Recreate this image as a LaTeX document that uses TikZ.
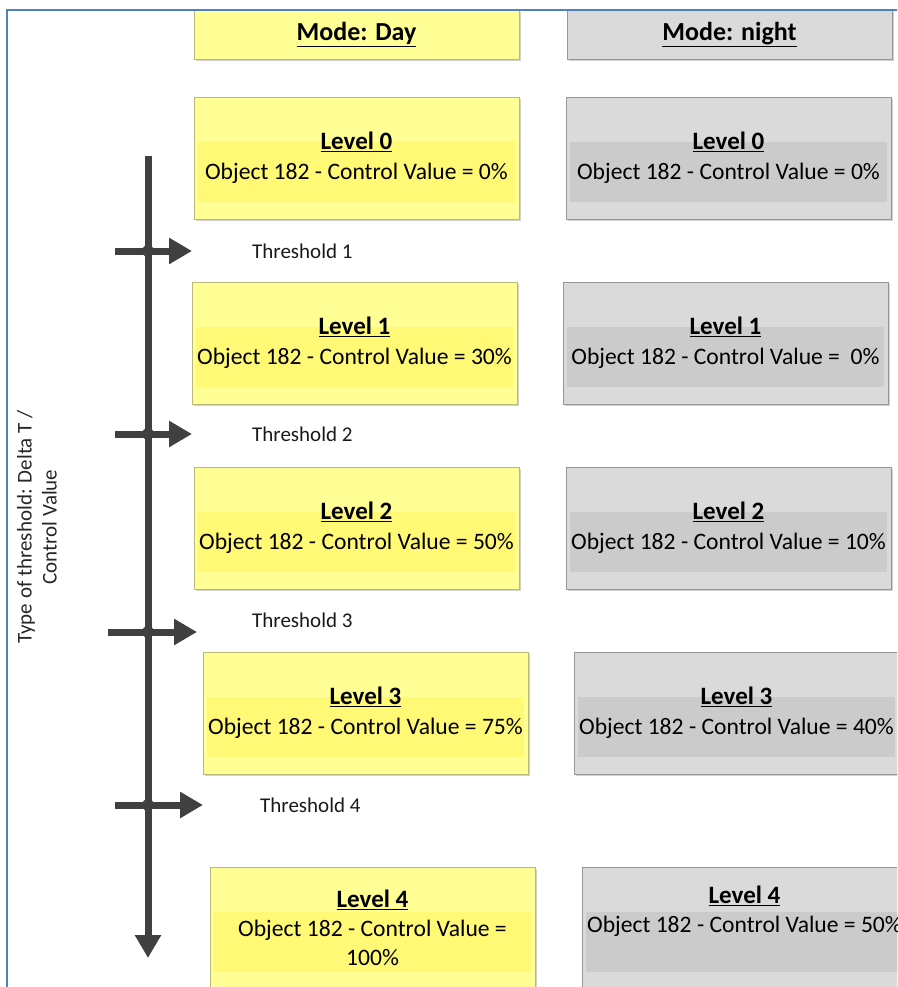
\documentclass[tikz,border=0pt]{standalone}
\usepackage{fontspec}
\setmainfont{Carlito}
\usetikzlibrary{arrows.meta,shadows}
\definecolor{DayFill}{RGB}{255,255,150}
\definecolor{DayBand}{RGB}{255,249,118}
\definecolor{DayEdge}{RGB}{185,185,120}
\definecolor{NightFill}{RGB}{218,218,218}
\definecolor{NightBand}{RGB}{203,203,203}
\definecolor{NightEdge}{RGB}{150,150,150}
\definecolor{AxisGray}{RGB}{64,64,64}
\definecolor{FrameBlue}{RGB}{79,129,189}
\newcommand{\lvl}[1]{{\fontsize{25}{30}\selectfont\bfseries\underline{#1}}}

\begin{document}
\begin{tikzpicture}[x=1pt, y=-1pt,
    lvlbox/.style={rectangle, minimum width=325pt, minimum height=122pt,
                   inner sep=0pt, align=center, font=\fontsize{23.6}{30}\selectfont,
                   drop shadow={shadow xshift=2pt, shadow yshift=-2pt, opacity=0.3, fill=black!60}},
    daybox/.style={lvlbox, draw=DayEdge, fill=DayFill,
                   path picture={\fill[DayBand] ([xshift=4pt,yshift=16pt]path picture bounding box.west)
                     rectangle ([xshift=-4pt,yshift=-44pt]path picture bounding box.east);}},
    nightbox/.style={lvlbox, draw=NightEdge, fill=NightFill,
                   path picture={\fill[NightBand] ([xshift=4pt,yshift=16pt]path picture bounding box.west)
                     rectangle ([xshift=-4pt,yshift=-44pt]path picture bounding box.east);}},
    modebox/.style={rectangle, minimum width=325pt, minimum height=49pt, inner sep=0pt,
                    font=\fontsize{26}{30}\selectfont\bfseries,
                    drop shadow={shadow xshift=2pt, shadow yshift=-2pt, opacity=0.3, fill=black!60}},
    thlabel/.style={anchor=west, inner sep=0pt, font=\fontsize{21}{24}\selectfont, text=black!90},
    sidelabel/.style={rotate=90, align=center, inner sep=0pt,
                      font=\fontsize{21}{25}\selectfont, text=black!85},
    arr/.style={-{Triangle[length=23pt,width=25pt]}, line width=7pt, AxisGray},
    frame/.style={FrameBlue, line width=2.5pt}
  ]
    \clip (0,0) rectangle (897,987);

    \node[modebox, draw=DayEdge, fill=DayFill] (mday) at (356.5,34.5) {\underline{Mode: Day}};
    \node[modebox, draw=NightEdge, fill=NightFill] (mnight) at (729.5,34.5) {\underline{Mode: night}};

    \node[daybox] (d0) at (356.5,158) {\lvl{Level 0}\\Object 182 - Control Value = 0\%};
    \node[daybox] (d1) at (354.5,343) {\lvl{Level 1}\\Object 182 - Control Value = 30\%};
    \node[daybox] (d2) at (356.5,528) {\lvl{Level 2}\\Object 182 - Control Value = 50\%};
    \node[daybox] (d3) at (365.5,713) {\lvl{Level 3}\\Object 182 - Control Value = 75\%};
    \node[daybox, font=\fontsize{23.6}{29}\selectfont] (d4) at (372.5,928) {\lvl{Level 4}\\Object 182 - Control Value =\\100\%};

    \node[nightbox] (n0) at (728.5,158) {\lvl{Level 0}\\Object 182 - Control Value = 0\%};
    \node[nightbox] (n1) at (725.5,343) {\lvl{Level 1}\\Object 182 - Control Value =\ \ 0\%};
    \node[nightbox] (n2) at (728.5,528) {\lvl{Level 2}\\Object 182 - Control Value = 10\%};
    \node[nightbox] (n3) at (736.5,713) {\lvl{Level 3}\\Object 182 - Control Value = 40\%};
    \node[nightbox, font=\fontsize{23.6}{29}\selectfont] (n4) at (744.5,928) {\lvl{Level 4}\\Object 182 - Control Value = 50\%\\\strut};

    % threshold axis
    \coordinate (atop) at (148,156);
    \coordinate (abot) at (148,958);
    \draw[arr] (atop) -- (abot);

    \coordinate (t1a) at (115,251);
    \coordinate (t1b) at (192,251);
    \coordinate (t2a) at (115,434);
    \coordinate (t2b) at (192,434);
    \coordinate (t3a) at (108,632);
    \coordinate (t3b) at (197,632);
    \coordinate (t4a) at (115,805);
    \coordinate (t4b) at (203,805);

    \draw[arr] (t1a) -- (t1b);
    \draw[arr] (t2a) -- (t2b);
    \draw[arr] (t3a) -- (t3b);
    \draw[arr] (t4a) -- (t4b);

    \fill[AxisGray] (148,251) circle (6pt);
    \fill[AxisGray] (148,434) circle (6pt);
    \fill[AxisGray] (148,632) circle (6pt);
    \fill[AxisGray] (148,805) circle (6pt);

    \node[thlabel] (th1) at (252,251) {Threshold 1};
    \node[thlabel] (th2) at (252,434) {Threshold 2};
    \node[thlabel] (th3) at (252,620) {Threshold 3};
    \node[thlabel] (th4) at (260,805) {Threshold 4};

    \node[sidelabel] (side) at (37,527) {Type of threshold: Delta T /\\Control Value};

    % outer frame
    \draw[frame] (7,990) -- (7,10) -- (900,10);
  \end{tikzpicture}
\end{document}
